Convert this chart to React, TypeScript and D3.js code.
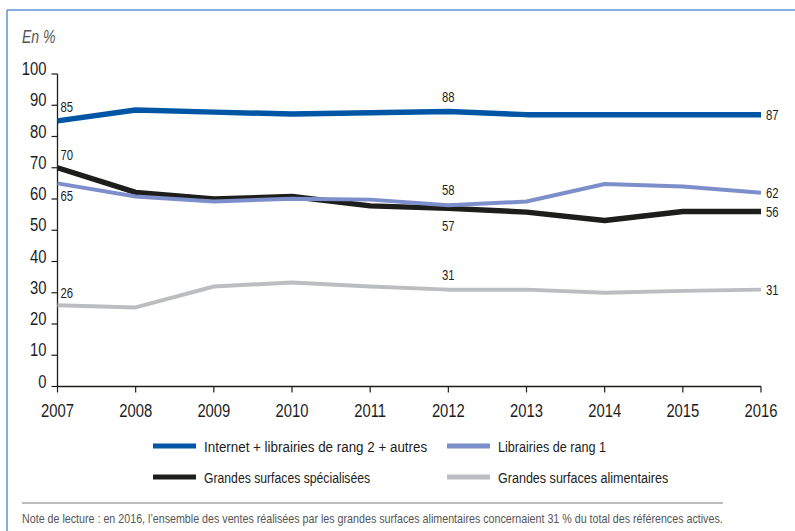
import React, { useLayoutEffect, useRef } from "react";
import * as d3 from "d3";

const years = [2007, 2008, 2009, 2010, 2011, 2012, 2013, 2014, 2015, 2016];
const internet = [85, 88.5, 87.8, 87.2, 87.6, 88, 87, 87, 87, 87];
const librairies1 = [65, 60.8, 59.2, 60.1, 59.8, 58, 59.2, 64.8, 64, 62];
const gss = [70, 62.1, 60, 60.8, 57.8, 57, 55.8, 53.1, 56, 56];
const gsa = [26, 25.3, 32, 33.3, 32, 31, 31, 30, 30.6, 31];
const yTicks = [0, 10, 20, 30, 40, 50, 60, 70, 80, 90, 100];

const seriesNames = [
  "Internet + librairies de rang 2 + autres",
  "Librairies de rang 1",
  "Grandes surfaces spécialisées",
  "Grandes surfaces alimentaires",
];
const note =
  "Note de lecture : en 2016, l’ensemble des ventes réalisées par les grandes surfaces alimentaires concernaient 31 % du total des références actives.";

const FONT = "'Liberation Sans', Arial, sans-serif";
const NARROW = 0.78;

// Condensed text: horizontally squeezed around its anchor point
function CText(props: {
  x: number;
  y: number;
  size: number;
  anchor?: string;
  fill?: string;
  italic?: boolean;
  children: React.ReactNode;
}) {
  const { x, y, size, anchor = "start", fill = "#1d1d1b", italic, children } = props;
  return (
    <text
      transform={`translate(${x},${y}) scale(${NARROW},1)`}
      fontSize={size}
      textAnchor={anchor as any}
      fill={fill}
      fontStyle={italic ? "italic" : undefined}
    >
      {children}
    </text>
  );
}

// Text squeezed to a given overall width, measured after layout
function FitText(props: { x: number; y: number; size: number; width: number; fill?: string; children: string }) {
  const { x, y, size, width, fill = "#1d1d1b", children } = props;
  const ref = useRef<SVGTextElement>(null);
  useLayoutEffect(() => {
    const el = ref.current;
    if (!el) return;
    const natural = el.getComputedTextLength();
    const s = natural > 0 ? width / natural : 1;
    el.setAttribute("transform", `translate(${x},${y}) scale(${s},1)`);
  }, [x, y, width, children]);
  return (
    <text ref={ref} transform={`translate(${x},${y}) scale(${NARROW},1)`} fontSize={size} fill={fill}>
      {children}
    </text>
  );
}

export default function App() {
  const W = 795;
  const H = 531;
  const x = d3.scaleLinear().domain([2007, 2016]).range([57.5, 761]);
  const y = d3.scaleLinear().domain([0, 100]).range([386.5, 74]);

  const line = d3
    .line<number>()
    .x((_, i) => x(years[i]))
    .y((d) => y(d));

  const series = [
    { name: seriesNames[2], values: gss, color: "#1d1d1b", width: 5.5 },
    { name: seriesNames[3], values: gsa, color: "#bcbdc0", width: 4 },
    { name: seriesNames[1], values: librairies1, color: "#7d8fcb", width: 4 },
    { name: seriesNames[0], values: internet, color: "#0055a4", width: 5.5 },
  ];

  // value labels: [series values, year index, dx, dy, anchor]
  const labels: [number[], number, number, number, string][] = [
    [internet, 0, 3, -9, "start"],
    [gss, 0, 3, -8, "start"],
    [librairies1, 0, 3, 18, "start"],
    [gsa, 0, 3, -7, "start"],
    [internet, 5, 0, -10, "middle"],
    [librairies1, 5, 0, -10, "middle"],
    [gss, 5, 0, 23, "middle"],
    [gsa, 5, 0, -10, "middle"],
    [internet, 9, 5, 5, "start"],
    [librairies1, 9, 5, 5, "start"],
    [gss, 9, 5, 5, "start"],
    [gsa, 9, 5, 5, "start"],
  ];

  const legend = [
    { name: seriesNames[0], color: "#0055a4", lx: 153, ly: 446, len: 223 },
    { name: seriesNames[1], color: "#7d8fcb", lx: 447, ly: 446, len: 108 },
    { name: seriesNames[2], color: "#1d1d1b", lx: 153, ly: 477, len: 166 },
    { name: seriesNames[3], color: "#bcbdc0", lx: 447, ly: 477, len: 170 },
  ];

  return (
    <svg
      width={W}
      height={H}
      style={{ position: "absolute", left: 0, top: 0, background: "#fff" }}
      fontFamily={FONT}
    >
      <rect x={0} y={0} width={W} height={H} fill="#fff" />
      {/* frame */}
      <line x1={7} y1={10} x2={W} y2={10} stroke="#5b93cf" strokeWidth={1.5} />
      <line x1={7} y1={10} x2={7} y2={H} stroke="#5b93cf" strokeWidth={1.5} />

      <CText x={22} y={43} size={18} italic fill="#555">
        En %
      </CText>

      {/* y axis */}
      <line x1={x(2007)} y1={y(100)} x2={x(2007)} y2={y(0)} stroke="#1d1d1b" strokeWidth={1.3} />
      {yTicks.map((t) => (
        <g key={t}>
          <line x1={x(2007) - 6} x2={x(2007)} y1={y(t)} y2={y(t)} stroke="#1d1d1b" strokeWidth={1.2} />
          <CText x={x(2007) - 11} y={y(t) + 1} size={19} anchor="end">
            {t}
          </CText>
        </g>
      ))}

      {/* x axis */}
      <line x1={x(2007)} y1={y(0)} x2={x(2016)} y2={y(0)} stroke="#1d1d1b" strokeWidth={1.3} />
      {years.map((yr) => (
        <g key={yr}>
          <line x1={x(yr)} x2={x(yr)} y1={y(0)} y2={y(0) + 6} stroke="#1d1d1b" strokeWidth={1.2} />
          <CText x={x(yr)} y={y(0) + 30} size={19} anchor="middle">
            {yr}
          </CText>
        </g>
      ))}

      {/* series */}
      {series.map((s) => (
        <path
          key={s.name}
          d={line(s.values) || ""}
          fill="none"
          stroke={s.color}
          strokeWidth={s.width}
          strokeLinejoin="round"
        />
      ))}

      {/* value labels */}
      {labels.map(([vals, i, dx, dy, anchor], k) => (
        <CText key={k} x={x(years[i]) + dx} y={y(vals[i]) + dy} size={14.5} anchor={anchor}>
          {Math.round(vals[i])}
        </CText>
      ))}

      {/* legend */}
      {legend.map((l) => (
        <g key={l.name}>
          <line x1={l.lx} x2={l.lx + 43} y1={l.ly} y2={l.ly} stroke={l.color} strokeWidth={5} />
          <FitText x={l.lx + 51} y={l.ly + 5.5} size={15.5} width={l.len}>
            {l.name}
          </FitText>
        </g>
      ))}

      <line x1={22} x2={723} y1={503} y2={503} stroke="#7a7a7a" strokeWidth={1} />
      <FitText x={22} y={523} size={12.5} width={700} fill="#555">
        {note}
      </FitText>
    </svg>
  );
}
